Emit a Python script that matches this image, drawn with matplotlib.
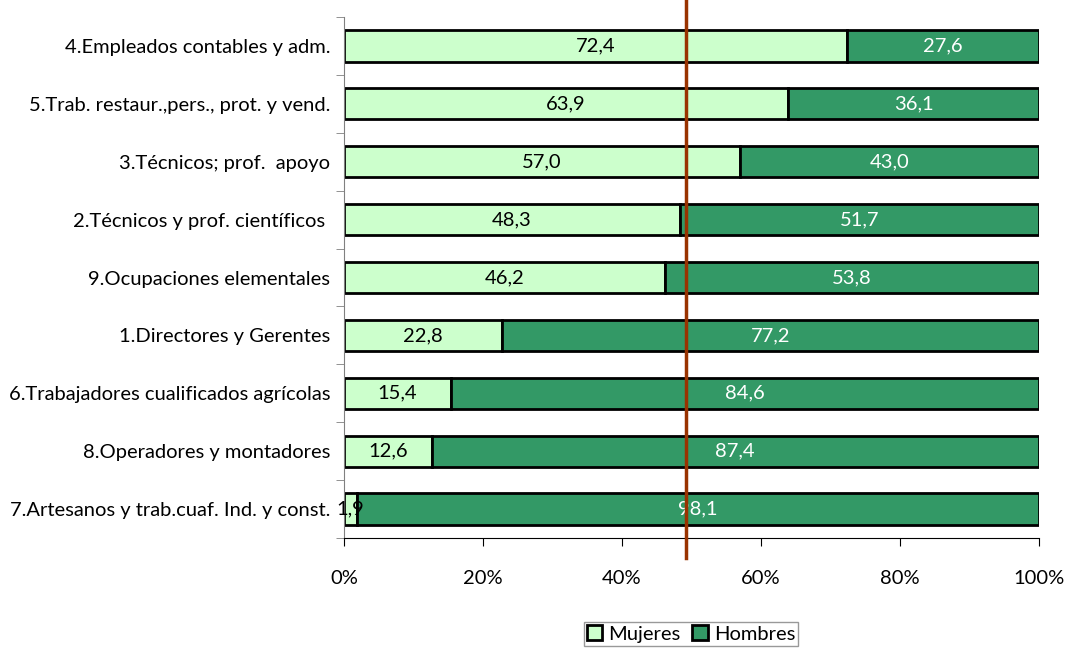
import numpy as np
import matplotlib.pyplot as plt
from matplotlib.ticker import FixedLocator, PercentFormatter

# ----------------------
# DATA (bottom -> top)
# ----------------------
categories = [
    "7.Artesanos y trab.cuaf. Ind. y const.",
    "8.Operadores y montadores",
    "6.Trabajadores cualificados agrícolas",
    "1.Directores y Gerentes",
    "9.Ocupaciones elementales",
    "2.Técnicos y prof. científicos ",
    "3.Técnicos; prof.  apoyo",
    "5.Trab. restaur.,pers., prot. y vend.",
    "4.Empleados contables y adm.",
]
mujeres = [1.9, 12.6, 15.4, 22.8, 46.2, 48.3, 57.0, 63.9, 72.4]
hombres = [98.1, 87.4, 84.6, 77.2, 53.8, 51.7, 43.0, 36.1, 27.6]
ref_line = 49.2

plt.rcParams['font.family'] = ['Lato', 'DejaVu Sans']
fs = 14.5

fig = plt.figure(figsize=(10.69, 6.49), dpi=100)
ax = fig.add_axes([344/1069, 1-538/649, (1039-344)/1069, (538-17)/649])

y = np.arange(len(categories))
h = 0.54
ax.barh(y, mujeres, height=h, color="#CCFFCC", edgecolor="black", linewidth=2, label="Mujeres")
ax.barh(y, hombres, left=mujeres, height=h, color="#339966", edgecolor="black", linewidth=2, label="Hombres")

for i in range(len(categories)):
    ax.text(mujeres[i] / 2, y[i], f"{mujeres[i]:.1f}".replace(".", ","),
            ha="center", va="center", fontsize=fs, color="black")
    ax.text(mujeres[i] + hombres[i] / 2, y[i], f"{hombres[i]:.1f}".replace(".", ","),
            ha="center", va="center", fontsize=fs, color="white")

ax.set_xlim(0, 100)
ax.set_ylim(-0.5, len(categories) - 0.5)
ax.xaxis.set_major_locator(FixedLocator([0, 20, 40, 60, 80, 100]))
ax.xaxis.set_major_formatter(PercentFormatter(decimals=0))
ax.set_yticks(y)
ax.set_yticklabels(categories, fontsize=fs)
ax.yaxis.set_minor_locator(FixedLocator(np.arange(-0.5, len(categories), 1)))
ax.tick_params(axis="y", which="major", length=0, pad=10)
ax.tick_params(axis="y", which="minor", length=6, color="#808080", direction="out")
ax.tick_params(axis="x", length=6, color="black", direction="out", labelsize=fs, pad=17)

for s in ["top", "right"]:
    ax.spines[s].set_visible(False)
ax.spines["left"].set_color("#808080")
ax.spines["bottom"].set_color("black")

# reference line extends beyond the plot area
ax.plot([ref_line, ref_line], [-0.84, 9.22], color="#993300", linewidth=2.5,
        clip_on=False, zorder=5)

leg = fig.legend(loc="center", bbox_to_anchor=(691/1069, 1-634/649), ncol=2,
                 fontsize=fs, frameon=True, fancybox=False, edgecolor="#808080",
                 handlelength=0.75, handleheight=0.75, handletextpad=0.3,
                 columnspacing=0.6, borderpad=0.15, borderaxespad=0)
leg.get_frame().set_linewidth(1.0)

fig.savefig("out.png", dpi=100)
